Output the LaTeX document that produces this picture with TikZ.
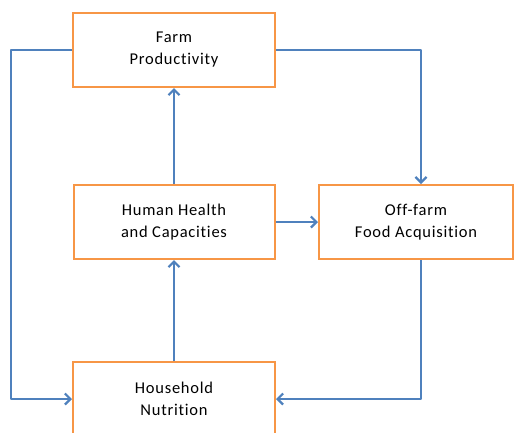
\documentclass[tikz,border=0pt]{standalone}
\usepackage{fontspec}
\setmainfont{Carlito}[LetterSpace=4.5, Ligatures={NoCommon}]
\usetikzlibrary{arrows.meta}
\definecolor{boxorange}{RGB}{247,150,70}
\definecolor{linkblue}{RGB}{79,129,189}
\tikzset{
  box/.style={draw=boxorange, line width=2pt, fill=white, rectangle,
    minimum height=74pt, align=center, font=\fontsize{16.5}{22}\selectfont, inner sep=0pt},
  link/.style={draw=linkblue, line width=2.6pt, line join=round,
    -{Straight Barb[length=5.5pt,width=11pt,line width=2.2pt]}}
}
\begin{document}
\begin{tikzpicture}[x=1pt,y=-1pt]
  \useasboundingbox (0,0) rectangle (514,432);
  \clip (0,0) rectangle (514,432);
  \node[box, minimum width=202pt] (farm) at (174,50) {Farm\\Productivity};
  \node[box, minimum width=201pt] (human) at (174,222) {Human Health\\and Capacities};
  \node[box, minimum width=194pt] (off) at (416,222) {Off-farm\\Food Acquisition};
  \node[box, minimum width=202pt] (house) at (174,399) {Household\\Nutrition};
  \coordinate (offin) at ([xshift=5pt]off.north);
  \coordinate (offout) at ([xshift=5pt]off.south);
  \draw[link] (farm.west) -- ++(-61,0) |- (house.west);
  \draw[link] (farm.east) -| (offin);
  \draw[link] (offout) |- (house.east);
  \draw[link] (human.north) -- (farm.south);
  \draw[link] (house.north) -- (human.south);
  \draw[link] (human.east) -- (off.west);
\end{tikzpicture}
\end{document}
